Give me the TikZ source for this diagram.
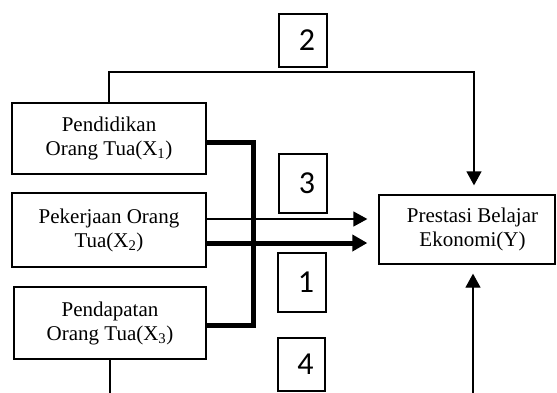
\documentclass[tikz,border=0pt]{standalone}
\usepackage{fontspec}
\setmainfont{Liberation Serif}
\newfontfamily\numfont{Carlito}
\usetikzlibrary{arrows.meta}
\begin{document}
\begin{tikzpicture}[x=1pt,y=-1pt,
  varbox/.style={draw,line width=1.3pt,inner sep=0pt,align=center,
    font=\fontsize{21}{24}\selectfont},
  numbox/.style={draw,line width=1.1pt,inner sep=0pt,align=center,
    font=\numfont\fontsize{32}{34}\selectfont},
  thinline/.style={line width=1.3pt},
  thinarrow/.style={line width=1.3pt,-{Triangle[length=14pt,width=15pt]}},
  bigline/.style={line width=5pt},
  bigarrow/.style={line width=5pt,-{Triangle[length=15pt,width=16pt]}}]
\useasboundingbox (0,0) rectangle (557,392);
\clip (0,0) rectangle (557,392);
\fill[white] (0,0) rectangle (557,392);

\node[varbox,minimum width=194pt,minimum height=71pt] (x1) at (109,138.5)
  {Pendidikan\\Orang Tua(X\textsubscript{1})};
\node[varbox,minimum width=194pt,minimum height=74pt] (x2) at (109,230)
  {Pekerjaan Orang\\Tua(X\textsubscript{2})};
\node[varbox,minimum width=192pt,minimum height=72pt] (x3) at (110,323)
  {Pendapatan\\Orang Tua(X\textsubscript{3})};
\node[varbox,minimum width=176pt,minimum height=69pt] (y) at (467,229.5)
  {\hspace*{11pt}Prestasi Belajar\\\hspace*{11pt}Ekonomi(Y)};

\node[numbox,minimum width=48pt,minimum height=53pt] (n2) at (303,40.5) {\hspace*{8pt}2};
\node[numbox,minimum width=48pt,minimum height=59pt] (n3) at (303,183.5) {\hspace*{8pt}3};
\node[numbox,minimum width=48pt,minimum height=59pt] (n1) at (302,282.5) {\hspace*{8pt}1};
\node[numbox,minimum width=47pt,minimum height=53pt] (n4) at (301.5,364.5) {\hspace*{8pt}4};

\coordinate (top) at (109,72);
\coordinate (bar) at (253,142);
\coordinate (bl) at (473,398);
\coordinate (br) at (110,398);

% path 2
\draw[thinarrow,shorten >=9pt] (x1.north) -- (top) -| ([xshift=7pt]y.north);
% path 3 and 1
\draw[thinarrow,shorten >=11pt] ([yshift=11pt]x2.east) -- ([yshift=11pt]x2.east -| y.west);
\draw[bigarrow,shorten >=11pt] ([yshift=-13pt]x2.east) -- ([yshift=-13pt]x2.east -| y.west);
% bracket
\draw[bigline] ([yshift=-3.5pt]x1.east) -| (bar) |- ([yshift=-2pt]x3.east);
% path 4
\draw[thinline] (x3.south) -- (br);
\draw[thinarrow,shorten >=9pt] (bl) -- (bl |- y.south);
\end{tikzpicture}
\end{document}
